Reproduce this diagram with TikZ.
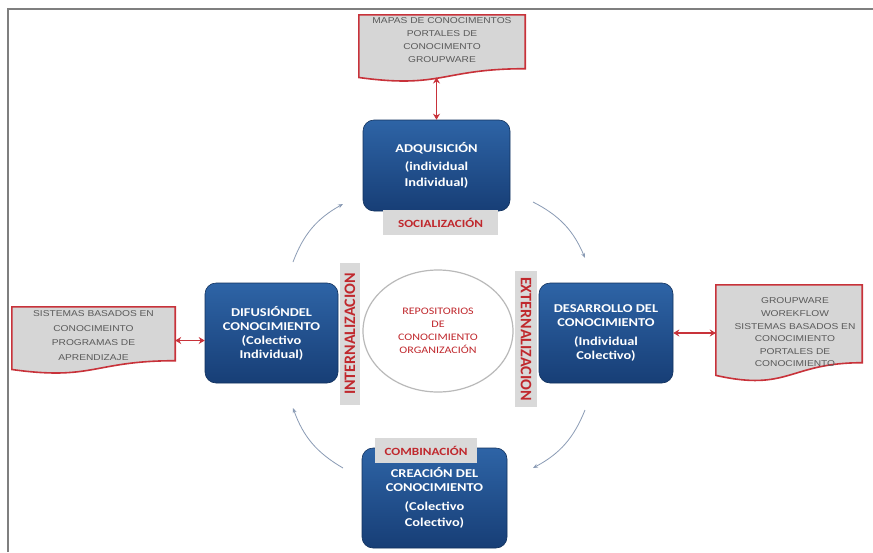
\documentclass[tikz,border=0pt]{standalone}
\usepackage{fontspec}
\setmainfont{Carlito}
\newfontfamily\boxfont{Carlito}[FakeStretch=1.2]
\newfontfamily\docfont{Liberation Sans}[FakeStretch=1.2]
\newfontfamily\vlabfont{Carlito}
\usetikzlibrary{arrows.meta,calc,shapes.geometric}
\definecolor{boxtop}{HTML}{2E64A6}
\definecolor{boxbot}{HTML}{173E76}
\definecolor{labgray}{HTML}{D9D9D9}
\definecolor{redtxt}{HTML}{C0282D}
\definecolor{docfill}{HTML}{D6D6D6}
\definecolor{docred}{HTML}{C8323A}
\definecolor{doctxt}{HTML}{5A5A5A}
\definecolor{cyc}{HTML}{8A9BB5}
\definecolor{framegray}{HTML}{7F7F7F}
\tikzset{
  bluebox/.style={rectangle, rounded corners=11pt, top color=boxtop, bottom color=boxbot,
    draw=boxbot!80!black, line width=0.6pt, text=white, align=center, inner sep=0pt,
    font=\boxfont\bfseries\fontsize{12}{14}\selectfont},
  hlabel/.style={rectangle, fill=labgray, text=redtxt, inner sep=0pt,
    font=\boxfont\bfseries\fontsize{11}{13}\selectfont},
  vlabel/.style={rectangle, fill=labgray, text=redtxt, inner sep=0pt,
    font=\vlabfont\bfseries\fontsize{16}{18}\selectfont},
  docbox/.style={rectangle, draw=none, inner sep=0pt},
  doctext/.style={text=doctxt, align=center, inner sep=0pt,
    font=\docfont\fontsize{8.5}{13}\selectfont},
  redarrow/.style={draw=docred, line width=1.6pt, {Stealth[length=6pt,width=7pt]}-{Stealth[length=6pt,width=7pt]}},
  cycarrow/.style={draw=cyc, line width=0.8pt, -{Stealth[length=5pt,width=4pt]}, bend left=20},
}
\newcommand\docshape[1]{%
  \draw[fill=docfill, draw=docred, line width=1.6pt]
    (#1.north west) -- (#1.north east)
    -- ($(#1.north east)!0.80!(#1.south east)$)
    .. controls ($(#1.north)!0.80!(#1.south)$) and ($(#1.north)!1.10!(#1.south)$)
    .. ($(#1.north west)!0.93!(#1.south west)$) -- cycle;}
\begin{document}
\begin{tikzpicture}[x=1pt, y=-1pt]
\useasboundingbox[fill=white] (0,0) rectangle (873,552);
% frame
\draw[framegray, line width=2.5pt] (8,552) -- (8,9) -- (873,9);

% documents
\node[docbox, minimum width=166pt, minimum height=67pt] (mapas) at (442,48.5) {};
\docshape{mapas}
\node[doctext] (mapastxt) at ([yshift=8pt]mapas.center)
  {MAPAS DE CONOCIMENTOS\\PORTALES DE\\CONOCIMENTO\\GROUPWARE};
\coordinate (mapasbot) at ($(mapas.north)!0.93!(mapas.south)$);

\node[docbox, minimum width=163pt, minimum height=67pt] (leftdoc) at (93.5,340.5) {};
\docshape{leftdoc}
\node[doctext, font=\docfont\fontsize{8.5}{14.5}\selectfont] (lefttxt) at ([yshift=5pt]leftdoc.center)
  {SISTEMAS BASADOS EN\\CONOCIMEINTO\\PROGRAMAS DE\\APRENDIZAJE};

\node[docbox, minimum width=146pt, minimum height=97pt] (rightdoc) at (789,333.5) {};
\docshape{rightdoc}
\node[doctext, font=\docfont\fontsize{8.5}{12.6}\selectfont] (righttxt) at ([xshift=6pt,yshift=1pt]rightdoc.center)
  {GROUPWARE\\WOREKFLOW\\SISTEMAS BASADOS EN\\CONOCIMIENTO\\PORTALES DE\\CONOCIMIENTO};

% blue boxes
\node[bluebox, minimum width=147pt, minimum height=91pt] (adq) at (436.5,165.5)
  {ADQUISICIÓN\\[4pt](individual\\[2pt]Individual)};
\node[bluebox, minimum width=133pt, minimum height=100pt] (dif) at (271.5,333)
  {DIFUSIÓNDEL\\CONOCIMIENTO\\(Colectivo\\Individual)};
\node[bluebox, minimum width=134pt, minimum height=100pt] (des) at (606,333)
  {DESARROLLO DEL\\CONOCIMIENTO\\[5pt](Individual\\Colectivo)};
\node[bluebox, minimum width=145pt, minimum height=100pt] (cre) at (434.5,498)
  {CREACIÓN DEL\\CONOCIMIENTO\\[5pt](Colectivo\\[2pt]Colectivo)};

% labels
\node[hlabel, minimum width=115pt, minimum height=25pt] (soc) at (440.5,222.5) {SOCIALIZACIÓN};
\node[hlabel, minimum width=102pt, minimum height=25pt] (comb) at (426,450.5) {COMBINACIÓN};
\node[vlabel, rotate=90, minimum width=142pt, minimum height=20pt] (intl) at (350,334) {INTERNALIZACION};
\node[vlabel, rotate=-90, minimum width=136pt, minimum height=22pt] (extl) at (526,339) {EXTERNALIZACION};

% center ellipse
\node[ellipse, draw=gray!55, line width=1.2pt, fill=white, minimum width=150pt, minimum height=122pt,
  text=redtxt, align=center, inner sep=0pt, font=\boxfont\fontsize{10}{13}\selectfont] (repo) at (438,331)
  {REPOSITORIOS\\DE\\CONOCIMIENTO\\ORGANIZACIÓN};

% red double arrows
\draw[redarrow] (adq.north |- mapasbot) -- (adq.north);
\draw[redarrow] (leftdoc.east) -- (leftdoc.east -| dif.west);
\draw[redarrow] (des.east) -- (des.east -| rightdoc.west);

% cycle arrows
\coordinate (c1s) at (293,262); \coordinate (c1e) at (343,204);
\coordinate (c2s) at (533,202); \coordinate (c2e) at (585,258);
\coordinate (c3s) at (585,410); \coordinate (c3e) at (533,468);
\coordinate (c4s) at (343,468); \coordinate (c4e) at (293,408);
\draw[cycarrow] (c1s) to (c1e);
\draw[cycarrow] (c2s) to (c2e);
\draw[cycarrow] (c3s) to (c3e);
\draw[cycarrow] (c4s) to (c4e);
\end{tikzpicture}
\end{document}
